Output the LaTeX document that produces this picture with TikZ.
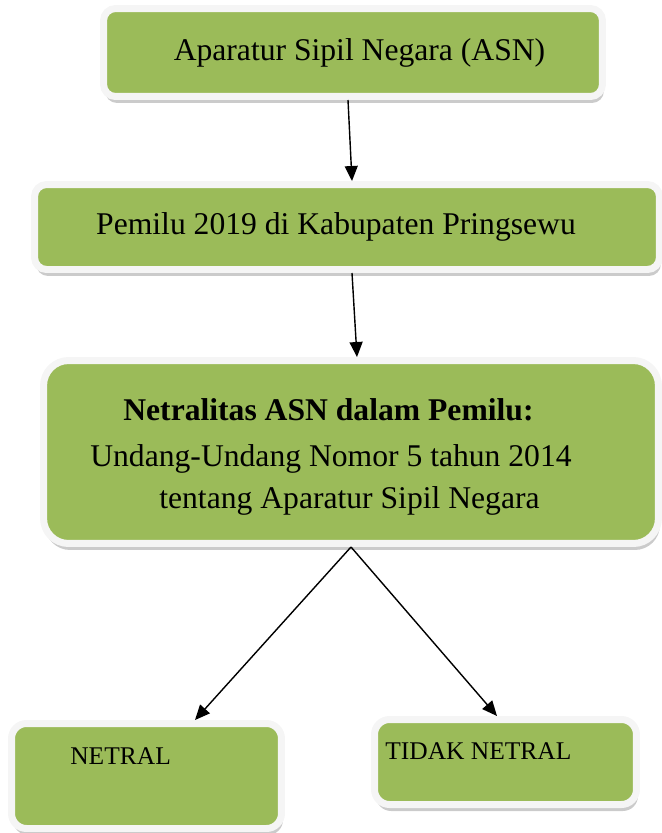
\documentclass[tikz,border=0pt]{standalone}
\usepackage{fontspec}
\setmainfont{Liberation Serif}
\usetikzlibrary{arrows.meta,positioning,shadows}
\definecolor{hijau}{HTML}{9BBB59}

\begin{document}
\begin{tikzpicture}[x=0.02cm, y=-0.02cm,
    kotak/.style={draw=black!4, line width=0.14cm, fill=hijau, rounded corners=0.24cm, inner sep=0pt,
      drop shadow={shadow xshift=0.03cm, shadow yshift=-0.13cm, fill=black!45, opacity=0.45},
      font=\fontsize{18}{22}\selectfont},
    teks/.style={inner sep=0pt, font=\fontsize{18}{22}\selectfont},
    teksk/.style={inner sep=0pt, font=\fontsize{14.5}{17}\selectfont},
    panah/.style={-{Triangle[length=0.3cm, width=0.26cm]}, line width=0.8pt}]
  \useasboundingbox (0,0) rectangle (662,833);

  % Kotak atas
  \node[kotak, minimum width=9.98cm, minimum height=1.76cm] (asn) at (353,52.5) {\hspace*{0.26cm}Aparatur Sipil Negara (ASN)};
  \node[kotak, minimum width=12.5cm, minimum height=1.7cm] (pemilu) at (347,227) {Pemilu 2019 di Kabupaten Pringsewu\hspace*{0.44cm}};

  % Kotak tengah
  \node[kotak, rounded corners=0.5cm, minimum width=12.3cm, minimum height=3.66cm] (netralitas) at (351,452) {};
  \node[teks, anchor=base west] (l1) at (123,420) {\textbf{Netralitas ASN dalam Pemilu:}};
  \node[teks, anchor=base west] (l2) at (90,466) {Undang-Undang Nomor 5 tahun 2014};
  \node[teks, anchor=base west] (l3) at (159,508) {tentang Aparatur Sipil Negara};

  % Kotak bawah
  \node[kotak, rounded corners=0.3cm, minimum width=5.4cm, minimum height=2.1cm] (netral) at (146.5,776) {};
  \node[teksk, anchor=base west] (t1) at (70,764) {NETRAL};
  \node[kotak, rounded corners=0.3cm, minimum width=5.24cm, minimum height=1.7cm] (tidak) at (505.5,762) {};
  \node[teksk, anchor=base west] (t2) at (385,759) {TIDAK NETRAL};

  \draw[panah] ([xshift=-0.1cm]asn.south) -- ([xshift=0.1cm]pemilu.north);
  \draw[panah] ([xshift=0.1cm]pemilu.south) -- ([xshift=0.12cm]netralitas.north);
  \draw[panah] (netralitas.south) -- ([xshift=0.97cm]netral.north);
  \draw[panah] (netralitas.south) -- ([xshift=-0.17cm]tidak.north);
\end{tikzpicture}
\end{document}
